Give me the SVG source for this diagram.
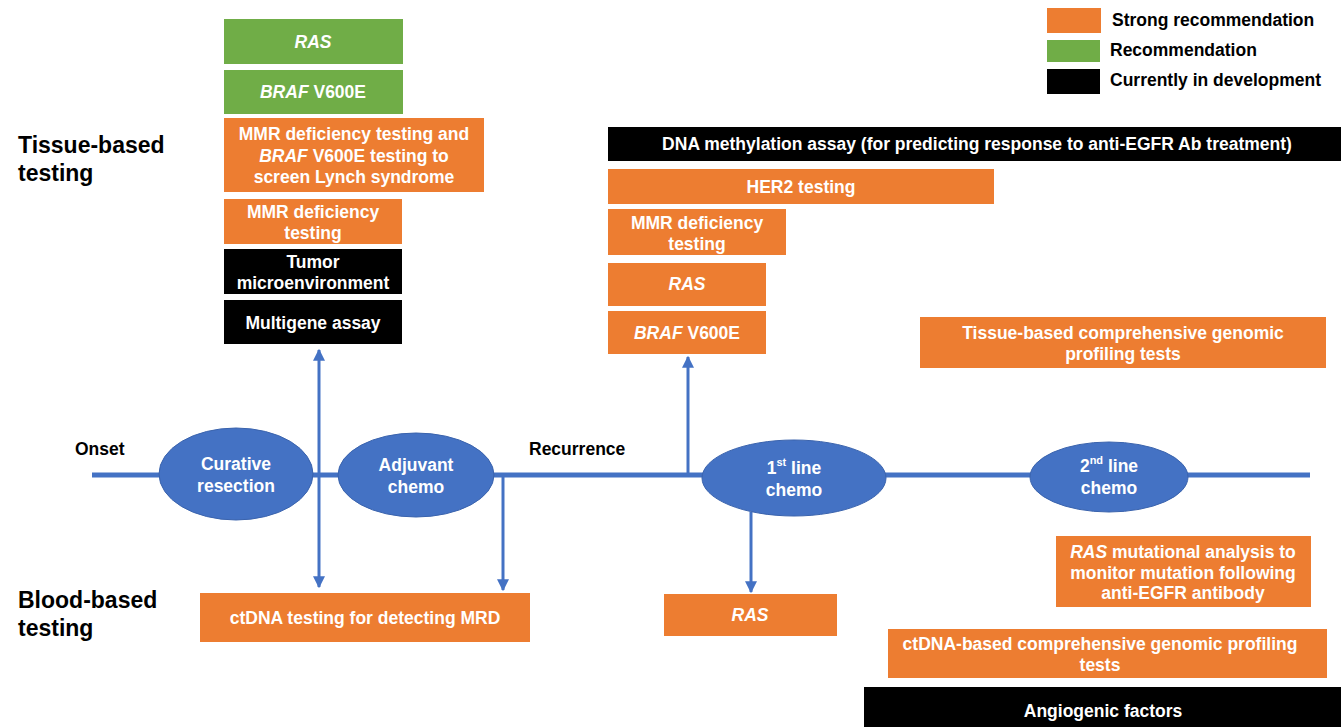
<svg xmlns="http://www.w3.org/2000/svg" width="1341" height="727" viewBox="0 0 1341 727">
<style>
.o{fill:#ED7D31}
.g{fill:#70AD47}
.k{fill:#000}
.t{font-family:"Liberation Sans",Arial,sans-serif;font-weight:bold;font-size:17.5px;fill:#fff;text-anchor:middle;dominant-baseline:central}
.l{font-family:"Liberation Sans",Arial,sans-serif;font-weight:bold;font-size:17.5px;fill:#000;dominant-baseline:central}
.h{font-family:"Liberation Sans",Arial,sans-serif;font-weight:bold;font-size:23px;fill:#000;dominant-baseline:central}
.e{fill:#4472C4;stroke:#3A63AD;stroke-width:1}
.c{stroke:#4472C4;stroke-width:3;fill:none}
.i{font-style:italic}
</style>
<defs>
<marker id="ah" viewBox="0 0 10 10" refX="9" refY="5" markerWidth="4" markerHeight="4" orient="auto-start-reverse">
<path d="M0,0 L10,5 L0,10 z" fill="#4472C4"/>
</marker>
</defs>
<rect width="1341" height="727" fill="#fff"/>

<g id="legend">
<rect class="o" x="1047" y="8" width="54" height="25"/>
<rect class="g" x="1047" y="40" width="53" height="22"/>
<rect class="k" x="1047" y="69" width="53" height="25"/>
<text class="l" x="1112" y="20">Strong recommendation</text>
<text class="l" x="1110" y="50">Recommendation</text>
<text class="l" x="1110" y="80">Currently in development</text>
</g>

<g id="labels">
<text class="h" x="18" y="145">Tissue-based</text>
<text class="h" x="18" y="173">testing</text>
<text class="h" x="18" y="600">Blood-based</text>
<text class="h" x="18" y="628">testing</text>
<text class="l" x="75" y="449">Onset</text>
<text class="l" x="529" y="449">Recurrence</text>
</g>

<g id="connectors">
<line x1="92" y1="475" x2="1310" y2="475" stroke="#4472C4" stroke-width="5"/>
<line class="c" x1="319" y1="350" x2="319" y2="587" marker-start="url(#ah)" marker-end="url(#ah)"/>
<line class="c" x1="503" y1="475" x2="503" y2="590" marker-end="url(#ah)"/>
<line class="c" x1="688" y1="476" x2="688" y2="357" marker-end="url(#ah)"/>
<line class="c" x1="751" y1="512" x2="751" y2="592" marker-end="url(#ah)"/>
</g>

<g id="n-curative"><ellipse class="e" cx="236" cy="474" rx="77" ry="46"/><text class="t" x="236" y="464">Curative</text><text class="t" x="236" y="486">resection</text></g>
<g id="n-adjuvant"><ellipse class="e" cx="416" cy="475" rx="78" ry="42"/><text class="t" x="416" y="465">Adjuvant</text><text class="t" x="416" y="487">chemo</text></g>
<g id="n-first"><ellipse class="e" cx="794" cy="478" rx="92" ry="38"/><text class="t" x="794" y="468">1<tspan font-size="11" dy="-6">st</tspan><tspan dy="6"> line</tspan></text><text class="t" x="794" y="490">chemo</text></g>
<g id="n-second"><ellipse class="e" cx="1109" cy="477" rx="79" ry="35"/><text class="t" x="1109" y="466">2<tspan font-size="11" dy="-6">nd</tspan><tspan dy="6"> line</tspan></text><text class="t" x="1109" y="488">chemo</text></g>

<g id="t-ras"><rect class="g" x="224" y="19" width="179" height="45"/><text class="t i" x="313" y="42">RAS</text></g>
<g id="t-braf"><rect class="g" x="224" y="70" width="179" height="44"/><text class="t" x="313" y="92"><tspan font-style="italic">BRAF</tspan> V600E</text></g>
<g id="t-lynch"><rect class="o" x="224" y="118" width="260" height="74"/><text class="t" x="354" y="134">MMR deficiency testing and</text><text class="t" x="354" y="156"><tspan font-style="italic">BRAF</tspan> V600E testing to</text><text class="t" x="354" y="177">screen Lynch syndrome</text></g>
<g id="t-mmr"><rect class="o" x="224" y="199" width="178" height="45"/><text class="t" x="313" y="212">MMR deficiency</text><text class="t" x="313" y="233">testing</text></g>
<g id="t-tme"><rect class="k" x="224" y="249" width="178" height="45"/><text class="t" x="313" y="262">Tumor</text><text class="t" x="313" y="283">microenvironment</text></g>
<g id="t-multi"><rect class="k" x="224" y="300" width="178" height="44"/><text class="t" x="313" y="323">Multigene assay</text></g>

<g id="r-dna"><rect class="k" x="608" y="127" width="733" height="34"/><text class="t" x="977" y="144">DNA methylation assay (for predicting response to anti-EGFR Ab treatment)</text></g>
<g id="r-her2"><rect class="o" x="608" y="169" width="386" height="35"/><text class="t" x="801" y="187">HER2 testing</text></g>
<g id="r-mmr"><rect class="o" x="608" y="209" width="178" height="46"/><text class="t" x="697" y="223">MMR deficiency</text><text class="t" x="697" y="244">testing</text></g>
<g id="r-ras"><rect class="o" x="608" y="263" width="158" height="43"/><text class="t i" x="687" y="284">RAS</text></g>
<g id="r-braf"><rect class="o" x="608" y="311" width="158" height="43"/><text class="t" x="687" y="333"><tspan font-style="italic">BRAF</tspan> V600E</text></g>
<g id="r-tissue"><rect class="o" x="920" y="317" width="406" height="51"/><text class="t" x="1123" y="333">Tissue-based comprehensive genomic</text><text class="t" x="1123" y="354">profiling tests</text></g>

<g id="b-ctdna"><rect class="o" x="200" y="593" width="330" height="49"/><text class="t" x="365" y="618">ctDNA testing for detecting MRD</text></g>
<g id="b-ras"><rect class="o" x="664" y="594" width="173" height="42"/><text class="t i" x="750" y="615">RAS</text></g>
<g id="b-rasmut"><rect class="o" x="1056" y="536" width="255" height="71"/><text class="t" x="1183" y="552"><tspan font-style="italic">RAS</tspan> mutational analysis to</text><text class="t" x="1183" y="573">monitor mutation following</text><text class="t" x="1183" y="593">anti-EGFR antibody</text></g>
<g id="b-cgp"><rect class="o" x="888" y="629" width="439" height="49"/><text class="t" x="1100" y="644">ctDNA-based comprehensive genomic profiling</text><text class="t" x="1100" y="665">tests</text></g>
<g id="b-angio"><rect class="k" x="864" y="687" width="477" height="40"/><text class="t" x="1103" y="711">Angiogenic factors</text></g>
</svg>
